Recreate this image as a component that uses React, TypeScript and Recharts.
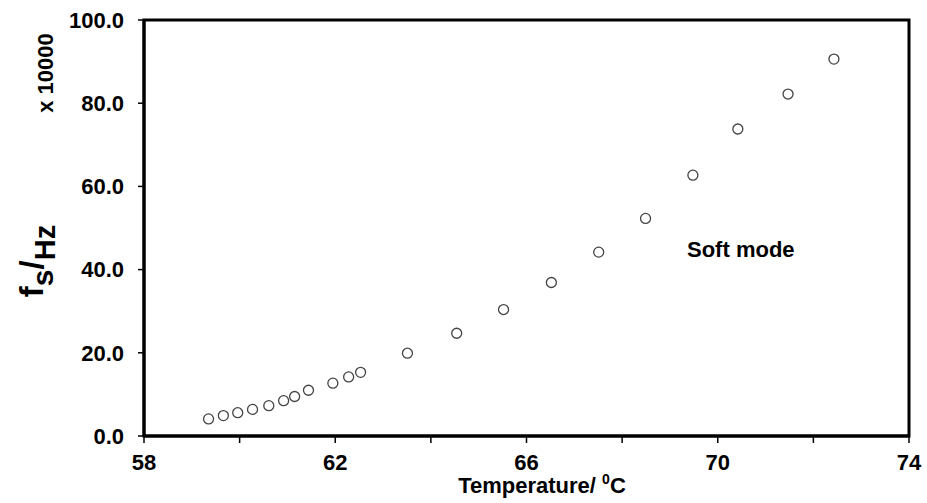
import React from "react";
import {
  ScatterChart,
  Scatter,
  XAxis,
  YAxis,
  ReferenceArea,
  Customized,
} from "recharts";

// temperature (deg C) and soft mode frequency (x 10000 Hz)
const temperature = [
  59.35, 59.66, 59.96, 60.27, 60.61, 60.92, 61.15, 61.44, 61.95, 62.28, 62.53,
  63.51, 64.54, 65.52, 66.52, 67.51, 68.49, 69.48, 70.42, 71.47, 72.43,
];
const softMode = [
  4.1, 4.9, 5.6, 6.4, 7.3, 8.5, 9.5, 11.0, 12.7, 14.2, 15.3, 19.9, 24.7, 30.4,
  36.9, 44.2, 52.3, 62.7, 73.8, 82.2, 90.6,
];
const xTicks = [58, 60, 62, 64, 66, 68, 70, 72, 74];
const yTicks = [0, 20, 40, 60, 80, 100];

const data = temperature.map((t, i) => ({ t, f: softMode[i] }));

const FONT = "'Liberation Sans', Arial, sans-serif";

const Circle = (props: any) => (
  <circle cx={props.cx} cy={props.cy} r={5} fill="#fff" stroke="#444" strokeWidth={1.3} />
);

const Labels = () => (
  <g fontFamily={FONT} fontWeight="bold" fill="#000">
    <text transform="rotate(-90, 43, 261)" x={43} y={261} textAnchor="middle">
      <tspan fontSize={33}>f</tspan>
      <tspan fontSize={30} dy={10}>s</tspan>
      <tspan fontSize={33} dy={-10}>/</tspan>
      <tspan fontSize={29} dy={12}>Hz</tspan>
    </text>
    <text transform="rotate(-90, 53, 73)" x={53} y={73} textAnchor="middle" fontSize={22}>
      x 10000
    </text>
    <text x={542} y={493} textAnchor="middle" fontSize={22}>
      Temperature/ <tspan fontSize={14} dy={-9}>0</tspan>
      <tspan dy={9}>C</tspan>
    </text>
    <text x={687} y={257} fontSize={22}>
      Soft mode
    </text>
  </g>
);

export default function App() {
  return (
    <div style={{ position: "absolute", left: 0, top: 0, background: "#fff" }}>
      <ScatterChart
        width={927}
        height={503}
        margin={{ top: 20, right: 18, bottom: 27, left: 84 }}
      >
        <XAxis
          type="number"
          dataKey="t"
          domain={[58, 74]}
          ticks={xTicks}
          tickFormatter={(v: number) => (v % 4 === 2 ? String(v) : "")}
          height={40}
          axisLine={{ stroke: "#000", strokeWidth: 3 }}
          tickLine={{ stroke: "#000", strokeWidth: 1.5 }}
          tickSize={7}
          tickMargin={11}
          tick={{ fill: "#000", fontSize: 22, fontWeight: "bold", fontFamily: FONT }}
          interval={0}
        />
        <YAxis
          type="number"
          dataKey="f"
          domain={[0, 100]}
          ticks={yTicks}
          tickFormatter={(v: number) => v.toFixed(1)}
          width={60}
          axisLine={{ stroke: "#000", strokeWidth: 3 }}
          tickLine={{ stroke: "#000", strokeWidth: 1.5 }}
          tickSize={6}
          tickMargin={14}
          tick={{ fill: "#000", fontSize: 22, fontWeight: "bold", fontFamily: FONT }}
          interval={0}
        />
        <ReferenceArea x1={58} x2={74} y1={0} y2={100} fill="none" stroke="#000" strokeWidth={3} />
        <Scatter data={data} shape={<Circle />} isAnimationActive={false} />
        <Customized component={Labels} />
      </ScatterChart>
    </div>
  );
}
